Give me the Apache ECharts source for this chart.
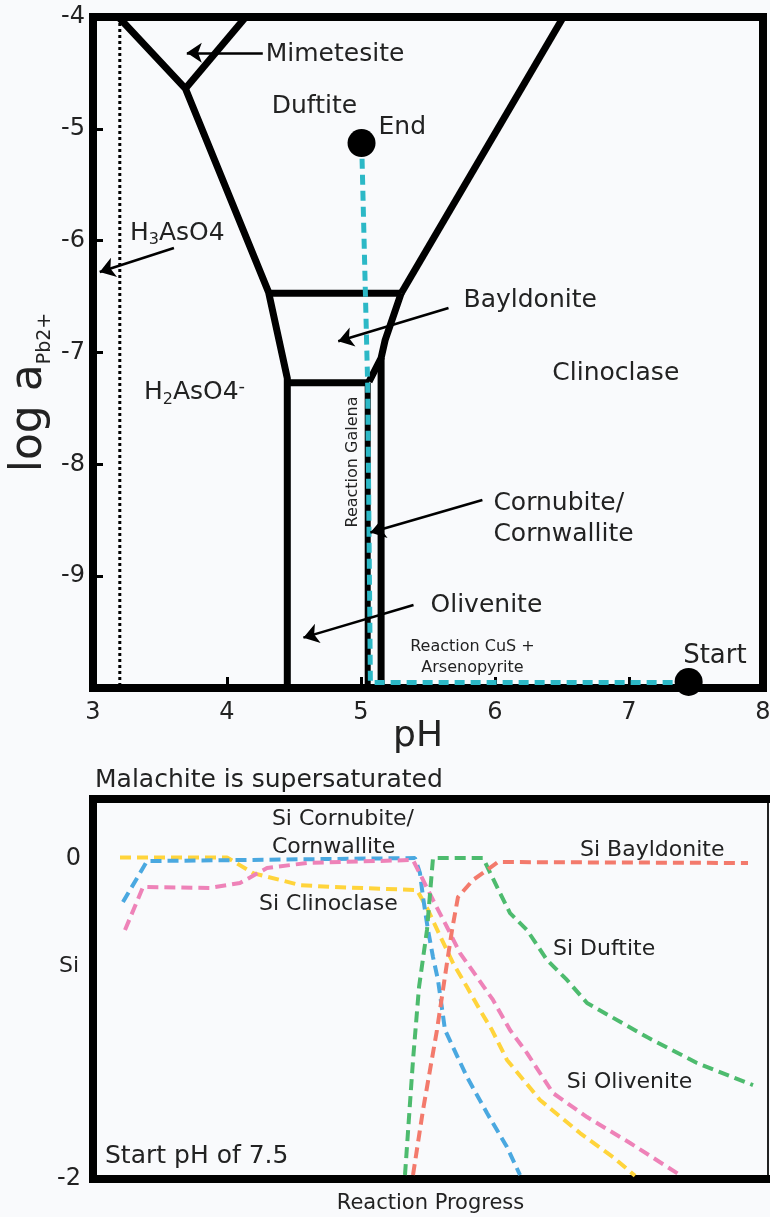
<!DOCTYPE html>
<html>
<head>
<meta charset="utf-8">
<script src="https://cdn.jsdelivr.net/npm/echarts@6/dist/echarts.min.js"></script>
<style>
  html, body { margin: 0; padding: 0; background: #f9fafc; }
  #chart { width: 770px; height: 1217px; }
</style>
</head>
<body>
<div id="chart"></div>
<script>
// ---- Stability field diagram: pH against log a(Pb2+) ----
const phRange = [3, 8];
const logRange = [-10, -4];

// Field boundaries as [pH, log a] vertices
const mimetesiteDuftiteLeft = [[3.19, -4], [3.69, -4.64], [4.31, -6.46], [4.45, -7.23], [4.45, -10]];
const mimetesiteRight = [[3.69, -4.64], [4.14, -4]];
const bayldoniteTop = [[4.31, -6.47], [5.30, -6.47]];
const duftiteClinoclase = [[5.30, -6.47], [6.51, -4]];
const bayldoniteClinoclase = [[5.30, -6.47], [5.18, -6.89], [5.15, -7.05], [5.06, -7.26]];
const oliveniteTop = [[4.45, -7.27], [5.06, -7.27]];
const oliveniteCornubite = [[5.05, -7.27], [5.05, -10]];
const cornubiteClinoclase = [[5.15, -7.05], [5.15, -10]];
const arsenicAcidLimit = [[3.2, -4], [3.2, -10]];

// Reaction path from the start point to the end point
const reactionPath = [[7.445, -9.95], [5.07, -9.95], [5.05, -7.3], [5.005, -5.13]];
const startPoint = [7.445, -9.946];
const endPoint = [5.004, -5.127];

// Pointer arrows, [tail, head]
const pointerArrows = [
  [[4.267, -4.32], [3.70, -4.32]],
  [[3.604, -6.066], [3.05, -6.28]],
  [[5.653, -6.602], [4.83, -6.90]],
  [[5.906, -8.319], [5.07, -8.61]],
  [[5.392, -9.258], [4.57, -9.55]]
];

// ---- Saturation indices along the reaction ----
const siRange = [-2, 0.375];
const siClinoclase = [[4.0, 0.01], [19.85, 0.01], [23.7, -0.088], [30.67, -0.163], [35.56, -0.175], [48.0, -0.194],
  [49.48, -0.306], [51.7, -0.506], [53.33, -0.65], [55.41, -0.80], [57.33, -0.944], [59.11, -1.069],
  [61.33, -1.256], [66.22, -1.506], [72.15, -1.713], [77.04, -1.863], [80.3, -1.98]];
const siCornubite = [[4.44, -0.269], [8.0, -0.013], [47.7, 0.006], [48.44, -0.088], [48.89, -0.238], [49.63, -0.444],
  [50.37, -0.613], [51.11, -0.756], [52.15, -1.069], [55.41, -1.363], [58.37, -1.588], [61.33, -1.8], [63.26, -1.975]];
const siOlivenite = [[4.74, -0.444], [7.41, -0.175], [17.33, -0.181], [21.78, -0.15], [25.78, -0.056], [31.7, -0.025],
  [47.4, -0.006], [48.89, -0.131], [50.37, -0.256], [52.44, -0.425], [54.37, -0.588], [56.89, -0.738],
  [59.26, -0.881], [61.78, -1.069], [64.3, -1.213], [68.15, -1.463], [73.19, -1.613], [79.56, -1.775], [86.96, -1.975]];
const siDuftite = [[46.22, -1.975], [47.41, -1.256], [48.3, -0.8], [49.48, -0.444], [50.37, 0.006], [57.78, 0.006],
  [60.3, -0.213], [61.78, -0.338], [64.3, -0.444], [67.26, -0.631], [70.22, -0.756], [73.19, -0.9],
  [82.07, -1.113], [89.48, -1.275], [97.78, -1.413]];
const siBayldonite = [[47.41, -1.975], [48.89, -1.569], [50.96, -1.069], [52.44, -0.65], [53.19, -0.444],
  [54.07, -0.238], [56.3, -0.131], [58.81, -0.056], [60.0, -0.019], [97.04, -0.025]];

const FONT = 'DejaVu Sans';
const INK = '#222';

const richText = {
  n: { fontSize: 25, lineHeight: 30, color: INK, fontFamily: FONT },
  s: { fontSize: 16, lineHeight: 10, verticalAlign: 'bottom', color: INK, fontFamily: FONT },
  u: { fontSize: 18, lineHeight: 10, verticalAlign: 'top', color: INK, fontFamily: FONT }
};

// Field names and notes on the diagram
const diagramNotes = [
  { t: 'Mimetesite', p: [4.289, -4.331] },
  { t: 'Duftite', p: [4.334, -4.796] },
  { t: 'End', p: [5.131, -4.984] },
  { t: '{n|H}{s|3}{n|AsO4}', p: [3.276, -5.932] },
  { t: 'Bayldonite', p: [5.765, -6.531] },
  { t: '{n|H}{s|2}{n|AsO4}{u|-}', p: [3.380, -7.362] },
  { t: 'Clinoclase', p: [6.428, -7.192] },
  { t: 'Cornubite/\nCornwallite', p: [5.988, -8.493], lh: 31 },
  { t: 'Olivenite', p: [5.519, -9.258] },
  { t: 'Reaction CuS +\nArsenopyrite', p: [5.832, -9.727], size: 16, lh: 21, align: 'center' },
  { t: 'Start', p: [7.404, -9.714], size: 26 },
  { t: 'Reaction Galena', p: [4.937, -7.979], size: 16, rotate: 90, align: 'center' }
];

const siNotes = [
  { t: 'Si Cornubite/\nCornwallite', p: [26.5, 0.1625], size: 22, lh: 28 },
  { t: 'Si Clinoclase', p: [24.6, -0.281], size: 22 },
  { t: 'Si Bayldonite', p: [72.15, 0.056], size: 22 },
  { t: 'Si Duftite', p: [68.15, -0.5625], size: 22 },
  { t: 'Si Olivenite', p: [70.2, -1.394], size: 22 }
];

function noteSeries(notes, idx) {
  return {
    type: 'scatter', xAxisIndex: idx, yAxisIndex: idx, symbolSize: 0, silent: true, z: 6,
    itemStyle: { opacity: 1 },
    data: notes.map(n => ({
      value: n.p,
      label: {
        show: true, position: 'inside', formatter: () => n.t,
        align: n.align || 'left', verticalAlign: 'middle', rotate: n.rotate || 0,
        fontSize: n.size || 25, lineHeight: n.lh, color: INK, fontFamily: FONT, opacity: 1,
        rich: richText
      }
    }))
  };
}

function boundarySeries(polys, width, extra) {
  return Object.assign({
    type: 'lines', coordinateSystem: 'cartesian2d', xAxisIndex: 0, yAxisIndex: 0,
    polyline: true, silent: true, z: 3,
    lineStyle: { color: '#000', width: width, opacity: 1, join: 'miter', cap: 'butt' },
    data: polys.map(c => ({ coords: c }))
  }, extra || {});
}

function siSeries(data, color) {
  return {
    type: 'line', xAxisIndex: 1, yAxisIndex: 1, data: data, showSymbol: false, silent: true,
    lineStyle: { color: color, width: 4, type: [11, 6] }, z: 4
  };
}

const blackLine = (w) => ({ lineStyle: { color: '#000', width: w, cap: 'square' } });
const plainTitle = (text, left, top, size) => ({
  text: text, left: left, top: top, padding: 0,
  textStyle: { fontSize: size, fontWeight: 'normal', color: INK, fontFamily: FONT }
});

const option = {
  backgroundColor: '#f9fafc',
  animation: false,
  textStyle: { fontFamily: FONT, color: INK },
  title: [
    plainTitle('Malachite is supersaturated', 95, 768, 25),
    plainTitle('Start pH of 7.5', 105, 1144, 25),
    plainTitle('Si', 59, 955, 22)
  ],
  grid: [
    { left: 93, top: 17, right: 7, bottom: 529, show: true, borderColor: '#000', borderWidth: 8,
      backgroundColor: 'transparent', outerBoundsMode: 'none' },
    { left: 93, top: 799, right: 2, bottom: 38, outerBoundsMode: 'none' }
  ],
  xAxis: [
    { gridIndex: 0, type: 'value', min: phRange[0], max: phRange[1], interval: 1,
      axisLine: { show: false, onZero: false },
      axisTick: { show: true, inside: true, length: 11, lineStyle: { color: '#000', width: 3 } },
      axisLabel: { fontSize: 24, color: INK, margin: 13, fontFamily: FONT },
      splitLine: { show: false },
      name: 'pH', nameLocation: 'middle', nameGap: 31, nameMoveOverlap: false,
      nameTextStyle: { fontSize: 36, lineHeight: 36, color: INK, fontFamily: FONT, padding: [0, 20, 0, 0] } },
    { gridIndex: 1, type: 'value', min: 0, max: 100, position: 'bottom',
      axisLine: Object.assign({ show: true, onZero: false }, blackLine(8)),
      axisTick: { show: false }, axisLabel: { show: false }, splitLine: { show: false },
      name: 'Reaction Progress', nameLocation: 'middle', nameGap: 14, nameMoveOverlap: false,
      nameTextStyle: { fontSize: 21, lineHeight: 21, color: INK, fontFamily: FONT } },
    { gridIndex: 1, type: 'value', min: 0, max: 100, position: 'top',
      axisLine: Object.assign({ show: true, onZero: false }, blackLine(8)),
      axisTick: { show: false }, axisLabel: { show: false }, splitLine: { show: false } }
  ],
  yAxis: [
    { gridIndex: 0, type: 'value', min: logRange[0], max: logRange[1], interval: 1,
      axisLine: { show: false, onZero: false },
      axisTick: { show: true, inside: true, length: 10, lineStyle: { color: '#000', width: 3 } },
      axisLabel: { fontSize: 24, color: INK, margin: 8, fontFamily: FONT,
        formatter: v => (v === logRange[0] ? '' : String(v)) },
      splitLine: { show: false },
      name: '{b|log a}{s|Pb2+}', nameLocation: 'middle', nameRotate: 90, nameGap: 38, nameMoveOverlap: false,
      nameTextStyle: {
        padding: [0, 80, 0, 0],
        rich: {
          b: { fontSize: 44, lineHeight: 50, color: INK, fontFamily: FONT },
          s: { fontSize: 19, lineHeight: 14, verticalAlign: 'bottom', color: INK, fontFamily: FONT }
        }
      } },
    { gridIndex: 1, type: 'value', min: siRange[0], max: siRange[1], interval: 1, position: 'left',
      axisLine: Object.assign({ show: true, onZero: false }, blackLine(8)),
      axisTick: { show: false },
      axisLabel: { fontSize: 24, color: INK, margin: 12, fontFamily: FONT,
        formatter: v => (v === 0 || v === -2 ? String(v) : '') },
      splitLine: { show: false } },
    { gridIndex: 1, type: 'value', min: siRange[0], max: siRange[1], position: 'right',
      axisLine: { show: true, onZero: false, lineStyle: { color: '#222', width: 2 } },
      axisTick: { show: false }, axisLabel: { show: false }, splitLine: { show: false } }
  ],
  series: [
    // dotted H3AsO4 / H2AsO4- limit
    boundarySeries([arsenicAcidLimit], 3, { lineStyle: { color: '#000', width: 3, opacity: 1, type: [3, 3] } }),
    // field boundaries
    boundarySeries([mimetesiteDuftiteLeft, mimetesiteRight, bayldoniteTop, duftiteClinoclase,
      bayldoniteClinoclase, oliveniteTop, cornubiteClinoclase], 7),
    boundarySeries([oliveniteCornubite], 6),
    // pointer arrows
    {
      type: 'lines', coordinateSystem: 'cartesian2d', xAxisIndex: 0, yAxisIndex: 0, silent: true, z: 5,
      symbol: ['none', 'arrow'], symbolSize: [0, 15],
      lineStyle: { color: '#000', width: 2.5, opacity: 1, curveness: 0 },
      data: pointerArrows.map(c => ({ coords: c }))
    },
    // reaction path
    {
      type: 'line', xAxisIndex: 0, yAxisIndex: 0, data: reactionPath, showSymbol: false, silent: true, z: 4,
      lineStyle: { color: '#2cb8c6', width: 5, type: [10, 6] }
    },
    {
      type: 'scatter', xAxisIndex: 0, yAxisIndex: 0, symbolSize: 28, silent: true, z: 5,
      itemStyle: { color: '#000', opacity: 1 }, data: [startPoint, endPoint]
    },
    noteSeries(diagramNotes, 0),

    // saturation index curves
    siSeries(siClinoclase, '#ffd43b'),
    siSeries(siCornubite, '#4aa8e0'),
    siSeries(siOlivenite, '#ee82b8'),
    siSeries(siDuftite, '#4dbb6e'),
    siSeries(siBayldonite, '#f37a6c'),
    noteSeries(siNotes, 1)
  ]
};

const chart = echarts.init(document.getElementById('chart'));
chart.setOption(option);
</script>
</body>
</html>
